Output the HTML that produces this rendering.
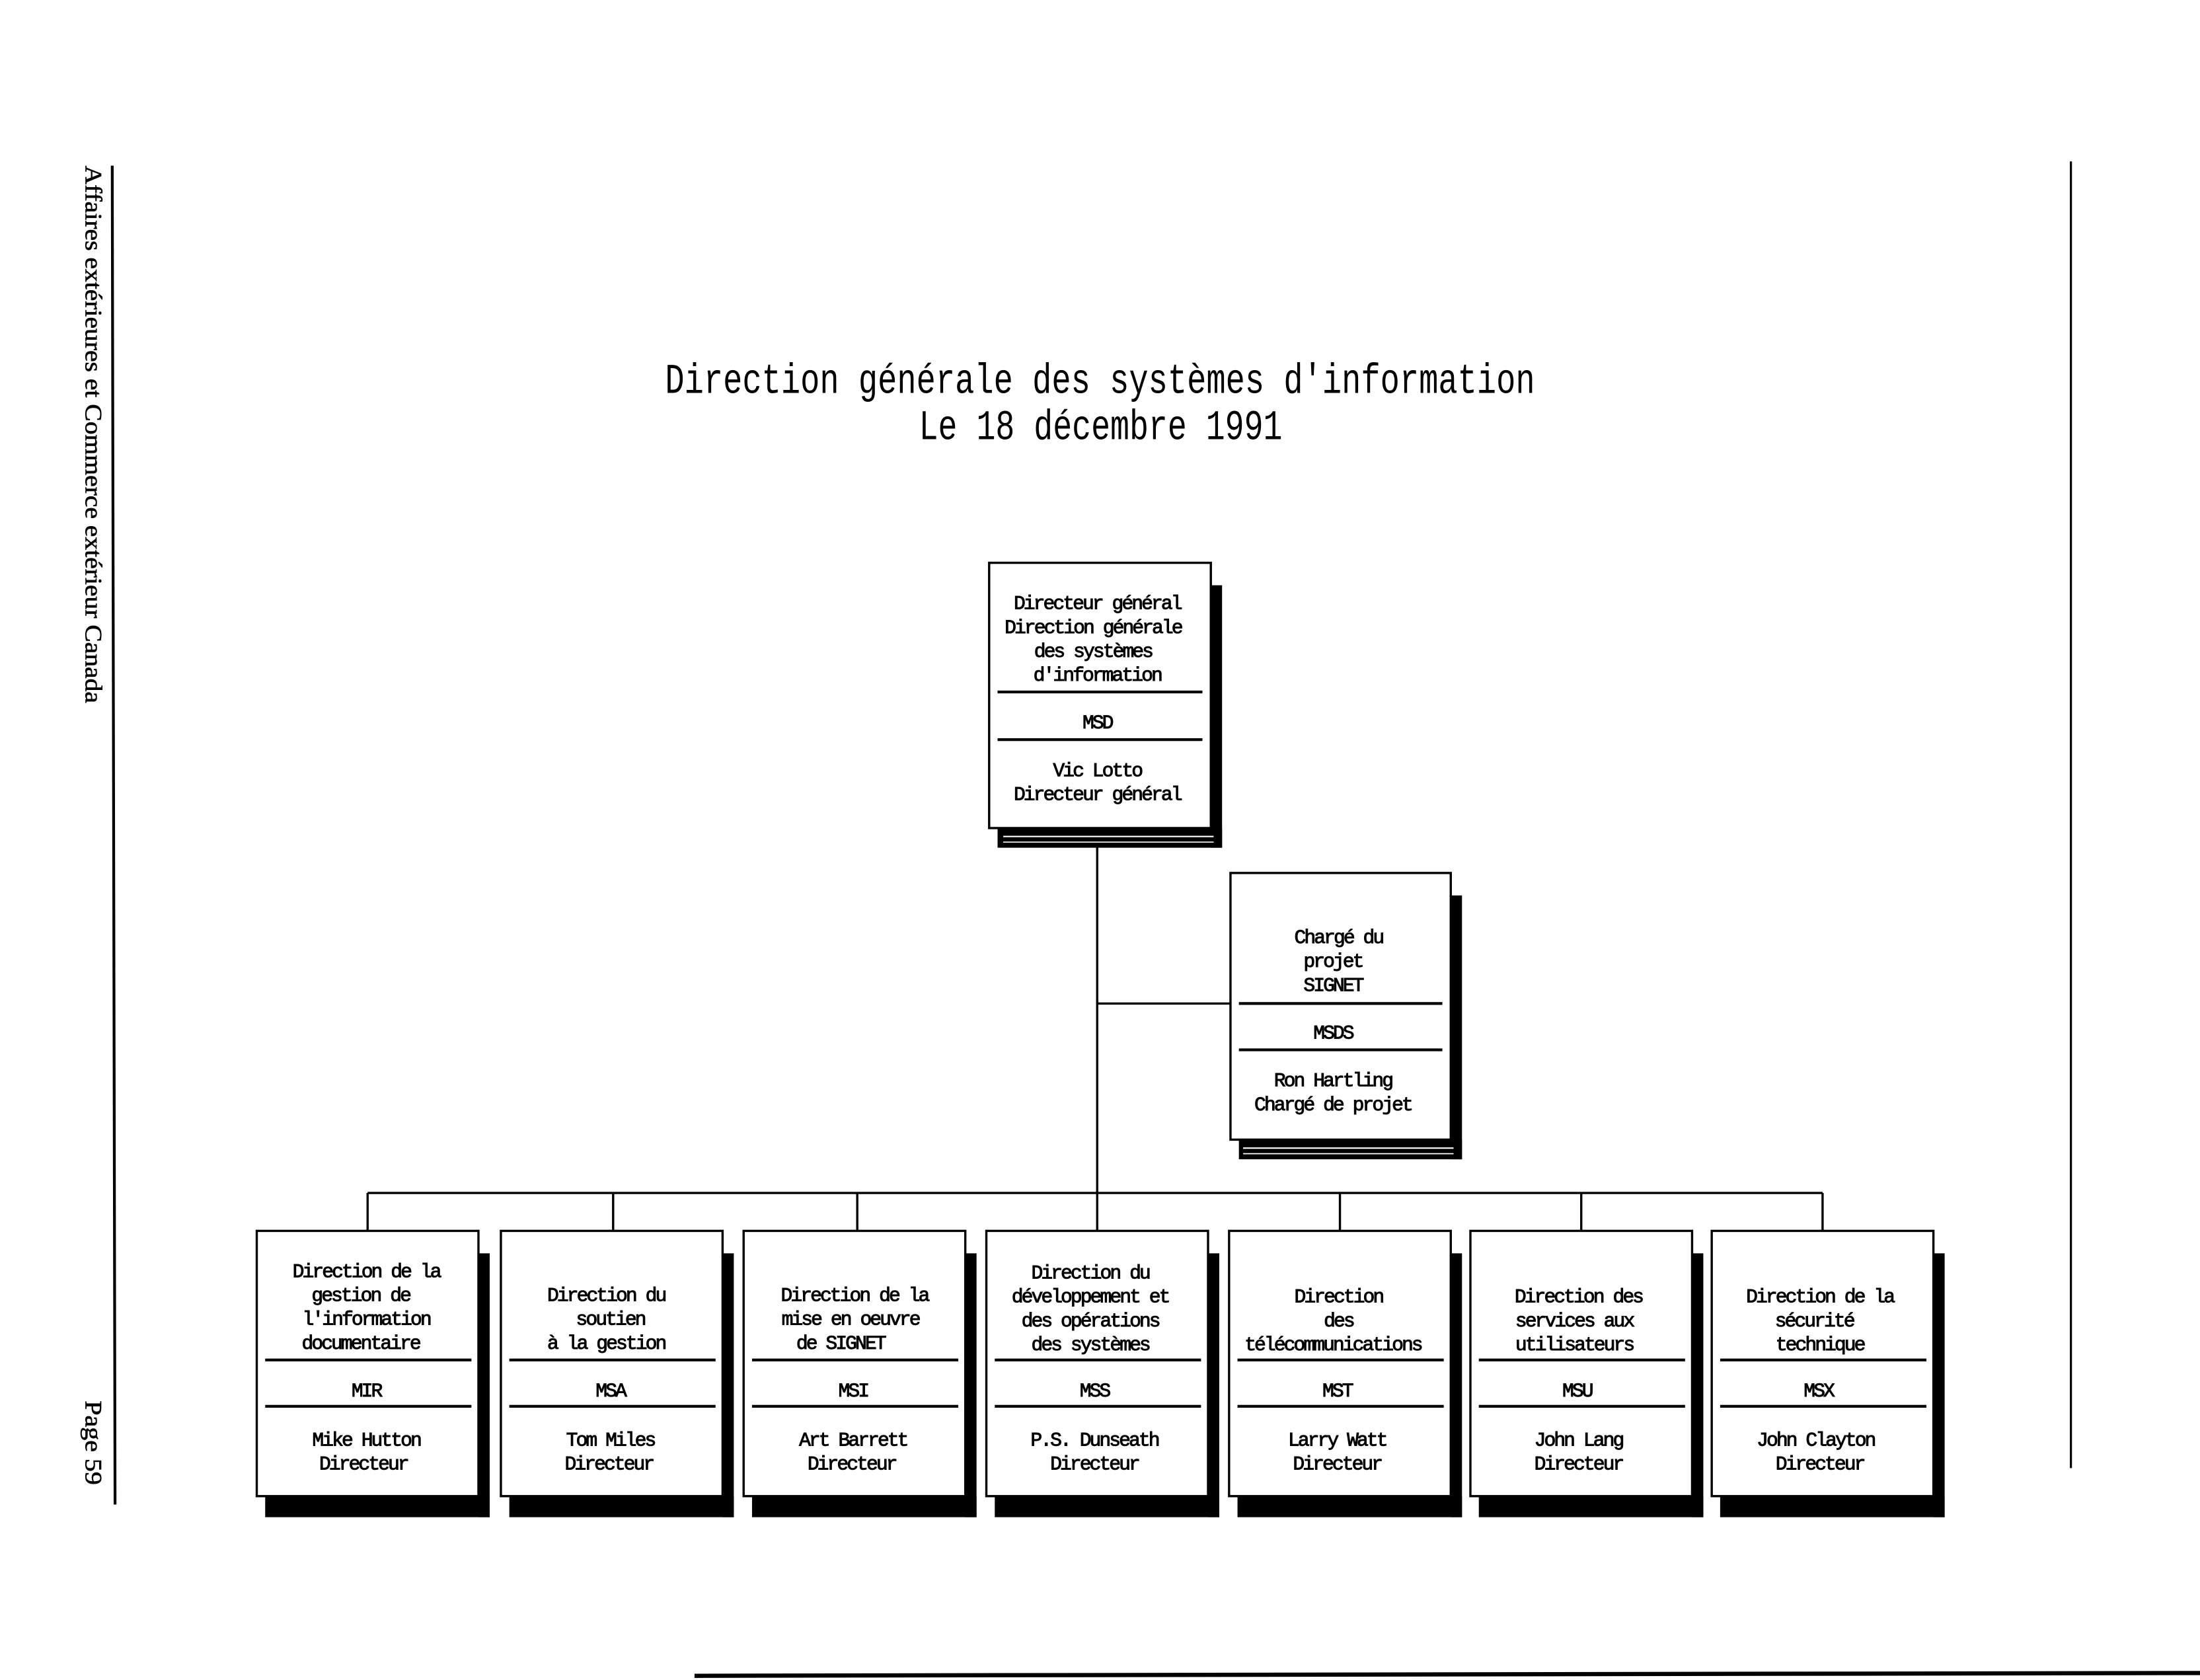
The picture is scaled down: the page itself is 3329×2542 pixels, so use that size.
<!DOCTYPE html>
<html><head><meta charset="utf-8"><style>
html,body{margin:0;padding:0;background:#fff;width:3329px;height:2542px;overflow:hidden}
svg{display:block}
text{font-family:"Liberation Mono",monospace;fill:#000}
.b{font-size:14px;letter-spacing:-1.4px;stroke:#000;stroke-width:0.45}
</style></head><body>
<svg width="3329" height="2542" viewBox="0 0 1568 1197" preserveAspectRatio="none" xmlns="http://www.w3.org/2000/svg">
<rect width="1568" height="1197" fill="#fff"/>
<line x1="80" y1="118" x2="82" y2="1072" stroke="#000" stroke-width="2"/>
<line x1="1476" y1="115" x2="1476" y2="1046" stroke="#000" stroke-width="1.5"/>
<line x1="495" y1="1194" x2="1568" y2="1192" stroke="#000" stroke-width="3"/>
<text transform="translate(61,118) rotate(90)" style="font-family:'Liberation Serif',serif;font-size:17px;stroke:#000;stroke-width:0.3" textLength="383" lengthAdjust="spacingAndGlyphs">Affaires extérieures et Commerce extérieur Canada</text>
<text transform="translate(61,998) rotate(90)" style="font-family:'Liberation Serif',serif;font-size:17px;stroke:#000;stroke-width:0.3" textLength="60" lengthAdjust="spacingAndGlyphs">Page 59</text>
<text x="474" y="280" style="font-size:30px" textLength="620" lengthAdjust="spacingAndGlyphs">Direction générale des systèmes d'information</text>
<text x="655" y="313" style="font-size:30px" textLength="259" lengthAdjust="spacingAndGlyphs">Le 18 décembre 1991</text>
<g stroke="#000" stroke-width="1.6" fill="none">
<line x1="782" y1="590" x2="782" y2="850"/>
<line x1="782" y1="715" x2="877" y2="715"/>
<line x1="262" y1="850" x2="1299" y2="850"/>
<line x1="262" y1="850" x2="262" y2="877"/>
<line x1="437" y1="850" x2="437" y2="877"/>
<line x1="611" y1="850" x2="611" y2="877"/>
<line x1="782" y1="850" x2="782" y2="877"/>
<line x1="955" y1="850" x2="955" y2="877"/>
<line x1="1127" y1="850" x2="1127" y2="877"/>
<line x1="1299" y1="850" x2="1299" y2="877"/>
</g>
<rect x="863" y="417" width="8" height="187" fill="#000"/>
<rect x="711" y="590" width="160" height="14" fill="#000"/>
<line x1="715" y1="596" x2="865" y2="596" stroke="#fff" stroke-width="1"/>
<line x1="715" y1="600" x2="865" y2="600" stroke="#fff" stroke-width="0.8"/>
<rect x="705" y="401" width="158" height="189" fill="#fff" stroke="#000" stroke-width="1.6"/>
<line x1="711" y1="493" x2="857" y2="493" stroke="#000" stroke-width="2"/>
<line x1="711" y1="527" x2="857" y2="527" stroke="#000" stroke-width="2"/>
<g class="b" text-anchor="middle">
<text x="782" y="434">Directeur général</text>
<text x="779" y="451">Direction générale</text>
<text x="779" y="468">des systèmes</text>
<text x="782" y="485">d'information</text>
<text x="782" y="519">MSD</text>
<text x="782" y="553">Vic Lotto</text>
<text x="782" y="570">Directeur général</text>
</g>
<rect x="1034" y="638" width="8" height="188" fill="#000"/>
<rect x="883" y="812" width="159" height="14" fill="#000"/>
<line x1="886" y1="818" x2="1036" y2="818" stroke="#fff" stroke-width="1"/>
<line x1="886" y1="822" x2="1036" y2="822" stroke="#fff" stroke-width="0.8"/>
<rect x="877" y="622" width="157" height="190" fill="#fff" stroke="#000" stroke-width="1.6"/>
<line x1="883" y1="715" x2="1028" y2="715" stroke="#000" stroke-width="2"/>
<line x1="883" y1="748" x2="1028" y2="748" stroke="#000" stroke-width="2"/>
<g class="b" text-anchor="middle">
<text x="954" y="672">Chargé du</text>
<text x="950" y="689">projet</text>
<text x="950" y="706">SIGNET</text>
<text x="950" y="740">MSDS</text>
<text x="950" y="774">Ron Hartling</text>
<text x="950" y="791">Chargé de projet</text>
</g>
<g>
<rect x="341" y="893" width="8" height="188" fill="#000"/><rect x="189" y="1066" width="160" height="15" fill="#000"/>
<rect x="183" y="877" width="158" height="189" fill="#fff" stroke="#000" stroke-width="1.6"/>
<rect x="515" y="893" width="8" height="188" fill="#000"/><rect x="363" y="1066" width="160" height="15" fill="#000"/>
<rect x="357" y="877" width="158" height="189" fill="#fff" stroke="#000" stroke-width="1.6"/>
<rect x="688" y="893" width="8" height="188" fill="#000"/><rect x="536" y="1066" width="160" height="15" fill="#000"/>
<rect x="530" y="877" width="158" height="189" fill="#fff" stroke="#000" stroke-width="1.6"/>
<rect x="861" y="893" width="8" height="188" fill="#000"/><rect x="709" y="1066" width="160" height="15" fill="#000"/>
<rect x="703" y="877" width="158" height="189" fill="#fff" stroke="#000" stroke-width="1.6"/>
<rect x="1034" y="893" width="8" height="188" fill="#000"/><rect x="882" y="1066" width="160" height="15" fill="#000"/>
<rect x="876" y="877" width="158" height="189" fill="#fff" stroke="#000" stroke-width="1.6"/>
<rect x="1206" y="893" width="8" height="188" fill="#000"/><rect x="1054" y="1066" width="160" height="15" fill="#000"/>
<rect x="1048" y="877" width="158" height="189" fill="#fff" stroke="#000" stroke-width="1.6"/>
<rect x="1378" y="893" width="8" height="188" fill="#000"/><rect x="1226" y="1066" width="160" height="15" fill="#000"/>
<rect x="1220" y="877" width="158" height="189" fill="#fff" stroke="#000" stroke-width="1.6"/>
</g>
<g stroke="#000" stroke-width="2">
<line x1="189" y1="969" x2="336" y2="969"/><line x1="189" y1="1002" x2="336" y2="1002"/>
<line x1="363" y1="969" x2="510" y2="969"/><line x1="363" y1="1002" x2="510" y2="1002"/>
<line x1="536" y1="969" x2="683" y2="969"/><line x1="536" y1="1002" x2="683" y2="1002"/>
<line x1="709" y1="969" x2="856" y2="969"/><line x1="709" y1="1002" x2="856" y2="1002"/>
<line x1="882" y1="969" x2="1029" y2="969"/><line x1="882" y1="1002" x2="1029" y2="1002"/>
<line x1="1054" y1="969" x2="1201" y2="969"/><line x1="1054" y1="1002" x2="1201" y2="1002"/>
<line x1="1226" y1="969" x2="1373" y2="969"/><line x1="1226" y1="1002" x2="1373" y2="1002"/>
</g>
<g class="b" text-anchor="middle">
<text x="261" y="910">Direction de la</text>
<text x="257" y="927">gestion de</text>
<text x="261" y="944">l'information</text>
<text x="257" y="961">documentaire</text>
<text x="261" y="995">MIR</text>
<text x="261" y="1030">Mike Hutton</text>
<text x="259" y="1047">Directeur</text>

<text x="432" y="927">Direction du</text>
<text x="435" y="944">soutien</text>
<text x="432" y="961">à la gestion</text>
<text x="435" y="995">MSA</text>
<text x="435" y="1030">Tom Miles</text>
<text x="434" y="1047">Directeur</text>

<text x="609" y="927">Direction de la</text>
<text x="606" y="944">mise en oeuvre</text>
<text x="599" y="961">de SIGNET</text>
<text x="608" y="995">MSI</text>
<text x="608" y="1030">Art Barrett</text>
<text x="607" y="1047">Directeur</text>

<text x="777" y="911">Direction du</text>
<text x="777" y="928">développement et</text>
<text x="777" y="945">des opérations</text>
<text x="777" y="962">des systèmes</text>
<text x="780" y="995">MSS</text>
<text x="780" y="1030">P.S. Dunseath</text>
<text x="780" y="1047">Directeur</text>

<text x="954" y="928">Direction</text>
<text x="954" y="945">des</text>
<text x="950" y="962">télécommunications</text>
<text x="953" y="995">MST</text>
<text x="953" y="1030">Larry Watt</text>
<text x="953" y="1047">Directeur</text>

<text x="1125" y="928">Direction des</text>
<text x="1122" y="945">services aux</text>
<text x="1122" y="962">utilisateurs</text>
<text x="1124" y="995">MSU</text>
<text x="1125" y="1030">John Lang</text>
<text x="1125" y="1047">Directeur</text>

<text x="1297" y="928">Direction de la</text>
<text x="1293" y="945">sécurité</text>
<text x="1297" y="962">technique</text>
<text x="1296" y="995">MSX</text>
<text x="1294" y="1030">John Clayton</text>
<text x="1297" y="1047">Directeur</text>
</g>
</svg>
</body></html>
